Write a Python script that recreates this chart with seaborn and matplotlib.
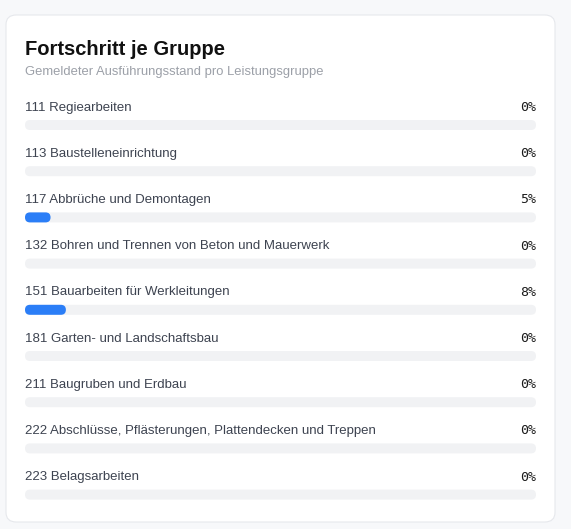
import pandas as pd
import seaborn as sns
import matplotlib.pyplot as plt
from matplotlib.patches import FancyBboxPatch

# data
codes = ["111", "113", "117", "132", "151", "181", "211", "222", "223"]
names = ["Regiearbeiten", "Baustelleneinrichtung", "Abbrüche und Demontagen",
         "Bohren und Trennen von Beton und Mauerwerk", "Bauarbeiten für Werkleitungen",
         "Garten- und Landschaftsbau", "Baugruben und Erdbau",
         "Abschlüsse, Pflästerungen, Plattendecken und Treppen", "Belagsarbeiten"]
progress = [0, 0, 5, 0, 8, 0, 0, 0, 0]

title = "Fortschritt je Gruppe"
subtitle = "Gemeldeter Ausführungsstand pro Leistungsgruppe"

df = pd.DataFrame({"group": [c + " " + n for c, n in zip(codes, names)],
                   "progress": progress})
df["track"] = 100

sns.set_style("white")
plt.rcParams["font.family"] = ["Liberation Sans", "DejaVu Sans"]

W, H = 571, 529
fig = plt.figure(figsize=(W / 100, H / 100), dpi=100)
fig.patch.set_facecolor("#f7f8fa")

# card (behind the axes)
card = FancyBboxPatch((6 / W, 1 - 522 / H), 549 / W, 507 / H,
                      boxstyle="round,pad=0,rounding_size=0.018",
                      transform=fig.transFigure, facecolor="white",
                      edgecolor="#e6e8ec", linewidth=0.8, zorder=-5)
fig.patches.append(card)

fig.text(25 / W, 1 - 49.5 / H, title, fontsize=14.5, fontweight="bold",
         color="#111111", va="center", ha="left")
fig.text(25 / W, 1 - 72.5 / H, subtitle, fontsize=9.4, color="#9ca0a8",
         va="center", ha="left")

# axes: rows 46.2 px apart, bar centre of row 0 at y=125 px
row = 46.2
y_top, y_bot = -0.75, 8.5
px_top = 125 + y_top * row
px_bot = 125 + y_bot * row
x0, x1 = 25, 536
ax = fig.add_axes([x0 / W, 1 - px_bot / H, (x1 - x0) / W, (px_bot - px_top) / H])
ax.set_facecolor("none")
ax.set_zorder(1)

bar_h = 10 / row
sns.barplot(data=df, x="track", y="group", color="#f1f2f4", width=bar_h,
            orient="h", saturation=1, ax=ax, zorder=1)
sns.barplot(data=df, x="progress", y="group", color="#2b7ef7", width=bar_h,
            orient="h", saturation=1, ax=ax, zorder=2)
ax.set_xlim(0, 100)
ax.set_ylim(y_bot, y_top)

# round the bar ends
px_per_x = (x1 - x0) / 100
rad = 5 / px_per_x
aspect = px_per_x / row
for p in list(ax.patches):
    x, y = p.get_x(), p.get_y()
    w, h = p.get_width(), p.get_height()
    fc = p.get_facecolor()
    z = p.get_zorder()
    p.remove()
    if w <= 0:
        continue
    ax.add_patch(FancyBboxPatch((x, y), w, h,
                                boxstyle=f"round,pad=0,rounding_size={min(rad, w / 2)}",
                                mutation_aspect=aspect, facecolor=fc,
                                edgecolor="none", zorder=z))

for i, (c, n, v) in enumerate(zip(codes, names, progress)):
    ty = i - 19 / row
    ax.text(0, ty, c + " " + n, fontsize=9.55, color="#3d4350",
            va="center_baseline", ha="left")
    ax.text(100, ty, f"{v}%", fontsize=9.5, color="#1a1a1a",
            va="center_baseline", ha="right", family=["DejaVu Sans Mono"])

ax.set_xlabel("")
ax.set_ylabel("")
ax.set_xticks([])
ax.set_yticks([])
sns.despine(ax=ax, left=True, bottom=True)

fig.savefig("out.png", dpi=100, facecolor=fig.get_facecolor())
